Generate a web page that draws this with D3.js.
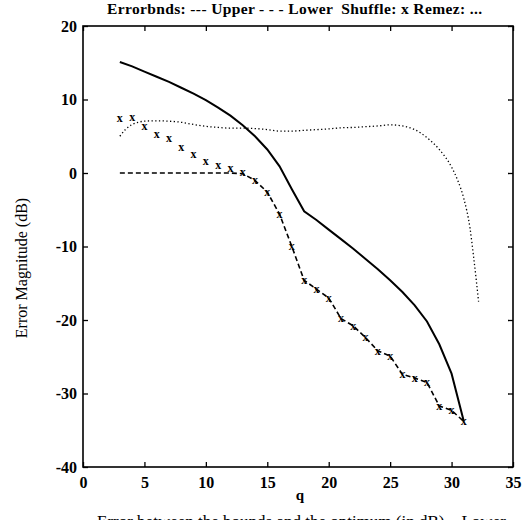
<!DOCTYPE html>
<html>
<head>
<meta charset="utf-8">
<script src="https://cdn.jsdelivr.net/npm/d3@7"></script>
<style>
body { margin: 0; background: #fff; }
svg { font-family: "Liberation Serif", "DejaVu Serif", serif; }
</style>
</head>
<body>
<script>
// upper error bound (solid), q = 3..31
var upperQ = [3,4,5,6,7,8,9,10,11,12,13,14,15,16,17,18,19,20,21,22,23,24,25,26,27,28,29,30,31];
var upperDb = [15.1,14.5,13.8,13.1,12.4,11.6,10.8,9.9,8.9,7.8,6.5,5.0,3.2,0.9,-2.2,-5.2,-6.4,-7.7,-9.0,-10.3,-11.7,-13.1,-14.6,-16.2,-18.0,-20.2,-23.3,-27.3,-33.8];

// lower error bound (dashed)
var lowerQ = [3,4,5,6,7,8,9,10,11,12,13,14,15,16,17,18,19,20,21,22,23,24,25,26,27,28,29,30,31];
var lowerDb = [0,0,0,0,0,0,0,0,0,0,-0.1,-1.0,-2.6,-5.6,-10.0,-14.6,-15.8,-17.0,-19.8,-20.8,-22.4,-24.2,-24.9,-27.4,-27.9,-28.5,-31.7,-32.3,-33.8];

// shuffle results (x markers)
var shuffleQ = [3,4,5,6,7,8,9,10,11,12,13,14,15,16,17,18,19,20,21,22,23,24,25,26,27,28,29,30,31];
var shuffleDb = [7.4,7.6,6.4,5.3,4.7,3.5,2.6,1.6,1.1,0.6,0.1,-1.0,-2.6,-5.6,-10.0,-14.6,-15.8,-17.0,-19.8,-20.8,-22.4,-24.2,-24.9,-27.4,-27.9,-28.5,-31.7,-32.3,-33.8];

// remez results (dotted)
var remezQ = [3,3.5,4,4.5,5,6,7,8,9,10,11,12,13,14,15,16,17,18,19,20,21,22,23,24,25,26,27,28,29,30,30.5,31,31.5,31.8,32.2];
var remezDb = [5.0,6.0,6.6,6.9,7.05,7.1,7.05,6.9,6.6,6.35,6.2,6.1,6.1,6.05,5.9,5.7,5.7,5.8,5.9,6.0,6.15,6.2,6.3,6.4,6.55,6.4,5.9,4.8,3.2,0.8,-1.0,-3.5,-7.5,-11.5,-17.5];

var xTicks = [0,5,10,15,20,25,30,35];
var yTicks = [-40,-30,-20,-10,0,10,20];

var margin = {top: 26, right: 16, bottom: 53, left: 83},
	width = 529 - margin.left - margin.right,
	height = 520 - margin.top - margin.bottom;

var x = d3.scaleLinear().domain([0, 35]).range([0, width]);
var y = d3.scaleLinear().domain([-40, 20]).range([height, 0]);

var svg = d3.select("body").append("svg")
		.attr("width", 529)
		.attr("height", 520);

var g = svg.append("g")
		.attr("transform", "translate(" + margin.left + "," + margin.top + ")");

function pairs(qs, vs) {
	return qs.map((q, i) => [q, vs[i]]);
}

// frame
g.append("rect")
	.attr("width", width)
	.attr("height", height)
	.attr("fill", "none")
	.attr("stroke", "#000")
	.attr("stroke-width", 1.6);

// axes with inward ticks, plain hyphen minus like the original
var fmt = d => String(d);
g.append("g")
	.attr("transform", "translate(0," + height + ")")
	.call(d3.axisBottom(x).tickValues(xTicks).tickSizeInner(-5).tickSizeOuter(0).tickPadding(10).tickFormat(fmt))
	.call(a => a.select(".domain").remove());
g.append("g")
	.call(d3.axisTop(x).tickValues(xTicks).tickSizeInner(-5).tickSizeOuter(0).tickFormat(""))
	.call(a => a.select(".domain").remove());
g.append("g")
	.call(d3.axisLeft(y).tickValues(yTicks).tickSizeInner(-5).tickSizeOuter(0).tickPadding(6).tickFormat(fmt))
	.call(a => a.select(".domain").remove());
g.append("g")
	.attr("transform", "translate(" + width + ",0)")
	.call(d3.axisRight(y).tickValues(yTicks).tickSizeInner(-5).tickSizeOuter(0).tickFormat(""))
	.call(a => a.select(".domain").remove());

g.selectAll(".tick text")
	.attr("font-family", "Liberation Serif, serif")
	.attr("font-size", 16)
	.attr("font-weight", "bold")
	.attr("fill", "#000");
g.selectAll(".tick line").attr("stroke", "#000").attr("stroke-width", 1.3);

g.append("path")
	.datum(pairs(upperQ, upperDb))
	.attr("fill", "none")
	.attr("stroke", "#000")
	.attr("stroke-width", 2)
	.attr("d", d3.line().x(d => x(d[0])).y(d => y(d[1])));

g.append("path")
	.datum(pairs(lowerQ, lowerDb))
	.attr("fill", "none")
	.attr("stroke", "#000")
	.attr("stroke-width", 1.6)
	.attr("stroke-dasharray", "5,3")
	.attr("d", d3.line().x(d => x(d[0])).y(d => y(d[1])));

g.append("path")
	.datum(pairs(remezQ, remezDb))
	.attr("fill", "none")
	.attr("stroke", "#000")
	.attr("stroke-width", 1.3)
	.attr("stroke-dasharray", "1.3,2.4")
	.attr("d", d3.line().x(d => x(d[0])).y(d => y(d[1])).curve(d3.curveMonotoneX));

g.selectAll(".shuffle")
	.data(pairs(shuffleQ, shuffleDb))
	.enter().append("text")
	.attr("class", "shuffle")
	.attr("x", d => x(d[0]))
	.attr("y", d => y(d[1]))
	.attr("dy", "0.32em")
	.attr("text-anchor", "middle")
	.attr("font-size", 12)
	.attr("font-weight", "bold")
	.text("x");

// texts
svg.append("text")
	.attr("x", 107)
	.attr("y", 14)
	.attr("font-size", 15.5)
	.attr("font-weight", "bold")
	.attr("textLength", 375)
	.attr("lengthAdjust", "spacing")
	.style("white-space", "pre")
	.text("Errorbnds: --- Upper - - - Lower  Shuffle: x Remez: ...");

svg.append("text")
	.attr("transform", "translate(27,268) rotate(-90)")
	.attr("text-anchor", "middle")
	.attr("font-size", 16)
	.text("Error Magnitude (dB)");

svg.append("text")
	.attr("x", 300)
	.attr("y", 500)
	.attr("text-anchor", "middle")
	.attr("font-size", 15)
	.attr("font-weight", "bold")
	.text("q");

svg.append("text")
	.attr("x", 97)
	.attr("y", 527)
	.attr("font-size", 17)
	.text("Error between the bounds and the optimum (in dB) – Lower");
</script>
</body>
</html>
